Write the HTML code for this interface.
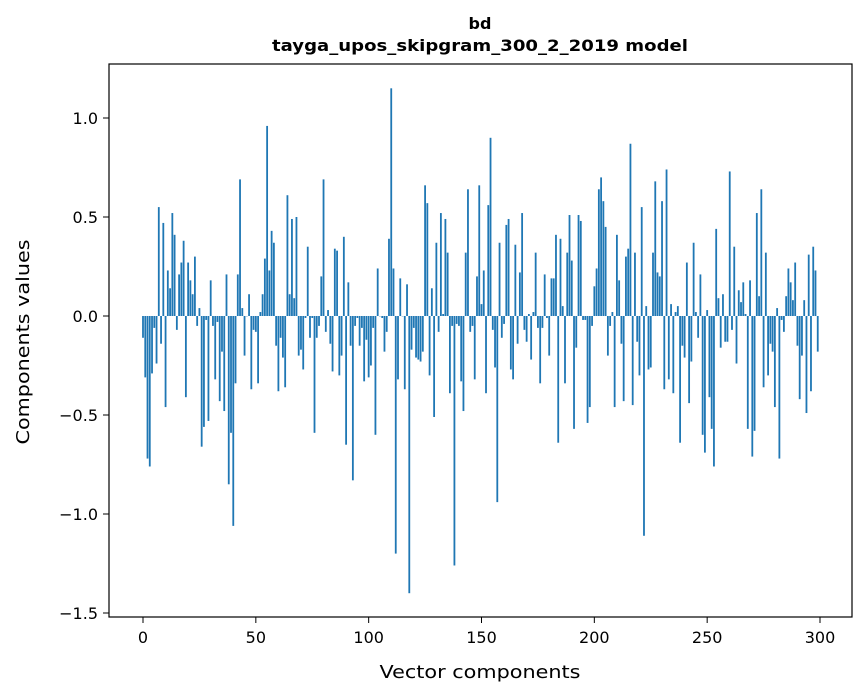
<!DOCTYPE html>
<html><head><meta charset="utf-8">
<style>
html,body{margin:0;padding:0;background:#fff;}
svg{display:block;font-family:"DejaVu Sans","Liberation Sans",sans-serif;}
</style></head>
<body>
<svg id="chart" width="867" height="696" viewBox="0 0 867 696">
<rect x="0" y="0" width="867" height="696" fill="#fff"/>
<text x="480" y="29" text-anchor="middle" font-size="16" font-weight="bold">bd</text>
<text x="480" y="51" text-anchor="middle" font-size="16" font-weight="bold" textLength="416" lengthAdjust="spacingAndGlyphs">tayga_upos_skipgram_300_2_2019 model</text>
<g id="bars"></g>
<g id="xticks"></g>
<g id="yticks"></g>
<rect x="109" y="64" width="743" height="553" fill="none" stroke="#000" stroke-width="1.2"/>
<text x="480" y="678" text-anchor="middle" font-size="18" textLength="201" lengthAdjust="spacingAndGlyphs">Vector components</text>
<text x="29" y="342" text-anchor="middle" font-size="18" textLength="205" lengthAdjust="spacingAndGlyphs" transform="rotate(-90 29 342)">Components values</text>
</svg>
<script>
const values = [
-0.11,-0.31,-0.72,-0.76,-0.29,-0.06,-0.24,0.55,-0.14,0.47,
-0.46,0.23,0.14,0.52,0.41,-0.07,0.21,0.27,0.38,-0.41,
0.27,0.18,0.11,0.30,-0.05,0.04,-0.66,-0.56,-0.02,-0.53,
0.18,-0.05,-0.32,-0.03,-0.43,-0.18,-0.48,0.21,-0.85,-0.59,
-1.06,-0.34,0.21,0.69,0.04,-0.20,0.00,0.11,-0.37,-0.07,
-0.08,-0.34,0.02,0.11,0.29,0.96,0.23,0.43,0.37,-0.15,
-0.38,-0.11,-0.21,-0.36,0.61,0.11,0.49,0.09,0.50,-0.20,
-0.17,-0.27,-0.01,0.35,-0.11,-0.01,-0.59,-0.11,-0.05,0.20,
0.69,-0.08,0.03,-0.14,-0.28,0.34,0.33,-0.30,-0.20,0.40,
-0.65,0.17,-0.15,-0.83,-0.05,-0.01,-0.15,-0.06,-0.33,-0.12,
-0.31,-0.25,-0.06,-0.60,0.24,0.00,-0.01,-0.18,-0.08,0.39,
1.15,0.24,-1.20,-0.32,0.19,0.00,-0.37,0.16,-1.40,-0.17,
-0.06,-0.21,-0.22,-0.23,-0.18,0.66,0.57,-0.30,0.14,-0.51,
0.37,-0.08,0.52,0.01,0.49,0.32,-0.39,-0.05,-1.26,-0.04,
-0.05,-0.33,-0.48,0.32,0.64,-0.08,-0.05,-0.32,0.20,0.66,
0.06,0.23,-0.39,0.56,0.90,-0.07,-0.26,-0.94,0.37,-0.11,
-0.04,0.46,0.49,-0.27,-0.32,0.36,-0.14,0.22,0.52,-0.07,
-0.13,0.01,-0.22,0.02,0.32,-0.06,-0.34,-0.06,0.21,-0.01,
-0.20,0.19,0.19,0.41,-0.64,0.39,0.05,-0.34,0.32,0.51,
0.28,-0.57,-0.16,0.51,0.48,-0.02,-0.02,-0.54,-0.46,-0.05,
0.15,0.24,0.64,0.70,0.58,0.45,-0.20,-0.05,0.02,-0.46,
0.41,0.18,-0.14,-0.43,0.30,0.34,0.87,-0.45,0.32,-0.13,
-0.30,0.55,-1.11,0.05,-0.27,-0.26,0.32,0.68,0.22,0.20,
0.58,-0.37,0.74,-0.32,0.06,-0.39,0.02,0.05,-0.64,-0.15,
-0.21,0.27,-0.44,-0.23,0.37,0.02,-0.11,0.21,-0.60,-0.69,
0.03,-0.41,-0.57,-0.76,0.44,0.09,-0.16,0.11,-0.13,-0.13,
0.73,-0.07,0.35,-0.24,0.13,0.07,0.17,0.01,-0.57,0.18,
-0.71,-0.58,0.52,0.10,0.64,-0.36,0.32,-0.30,-0.14,-0.18,
-0.46,0.04,-0.72,-0.02,-0.08,0.10,0.24,0.17,0.08,0.27,
-0.15,-0.42,-0.20,0.08,-0.49,0.31,-0.38,0.35,0.23,-0.18
];
const xTicks = [0,50,100,150,200,250,300];
const yTicks = [-1.5,-1.0,-0.5,0.0,0.5,1.0];
const yTickLabels = ["\u22121.5","\u22121.0","\u22120.5","0.0","0.5","1.0"];

const NS = "http://www.w3.org/2000/svg";
function xs(v){ return 143 + v * (677/300); }
function ys(v){ return 316 - v * 198; }
const barsG = document.getElementById('bars');
const bw = 0.8 * (677/300);
values.forEach(function(v, i){
  const r = document.createElementNS(NS, 'rect');
  const y0 = ys(0), y1 = ys(v);
  r.setAttribute('x', xs(i) - bw/2);
  r.setAttribute('y', Math.min(y0, y1));
  r.setAttribute('width', bw);
  r.setAttribute('height', Math.max(Math.abs(y1 - y0), 0.3));
  r.setAttribute('fill', '#1f77b4');
  
  
  barsG.appendChild(r);
});
const xg = document.getElementById('xticks');
xTicks.forEach(function(t){
  const x = xs(t);
  const l = document.createElementNS(NS, 'line');
  l.setAttribute('x1', x); l.setAttribute('x2', x);
  l.setAttribute('y1', 617); l.setAttribute('y2', 623);
  l.setAttribute('stroke', '#000');
  
  
  xg.appendChild(l);
  const tx = document.createElementNS(NS, 'text');
  tx.setAttribute('x', x); tx.setAttribute('y', 643);
  tx.setAttribute('text-anchor', 'middle');
  tx.setAttribute('font-size', '16');
  tx.textContent = String(t);
  
  
  xg.appendChild(tx);
});
const yg = document.getElementById('yticks');
yTicks.forEach(function(t, k){
  const y = ys(t);
  const l = document.createElementNS(NS, 'line');
  l.setAttribute('x1', 103); l.setAttribute('x2', 109);
  l.setAttribute('y1', y); l.setAttribute('y2', y);
  l.setAttribute('stroke', '#000');
  
  
  yg.appendChild(l);
  const tx = document.createElementNS(NS, 'text');
  tx.setAttribute('x', 98); tx.setAttribute('y', y + 6);
  tx.setAttribute('text-anchor', 'end');
  tx.setAttribute('font-size', '16');
  tx.textContent = yTickLabels[k];
  
  
  yg.appendChild(tx);
});
</script>
</body></html>
